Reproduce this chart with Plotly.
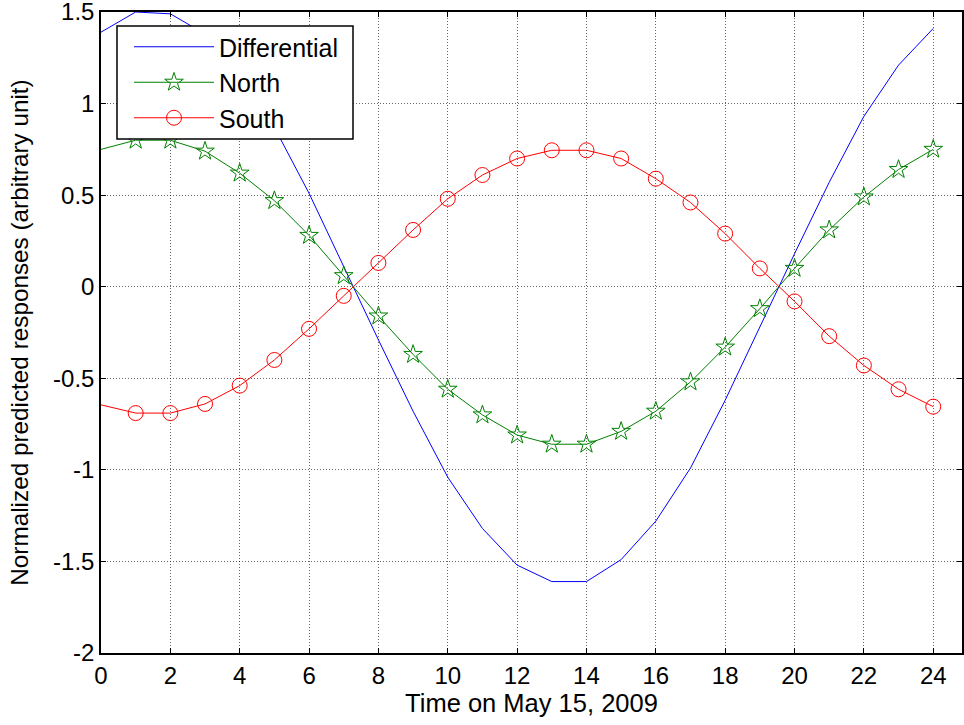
import plotly.graph_objects as go

hours = list(range(0, 25))
differential = [1.39, 1.50, 1.49, 1.38, 1.16, 0.87, 0.51, 0.11, -0.29, -0.68, -1.04, -1.32, -1.52,
                -1.61, -1.61, -1.49, -1.28, -0.99, -0.62, -0.22, 0.18, 0.57, 0.93, 1.21, 1.41]
north = [0.75, 0.80, 0.80, 0.74, 0.62, 0.47, 0.28, 0.06, -0.16, -0.37, -0.56, -0.70, -0.81,
         -0.86, -0.86, -0.79, -0.68, -0.52, -0.33, -0.12, 0.10, 0.31, 0.49, 0.64, 0.75]
south = [-0.645, -0.69, -0.69, -0.64, -0.54, -0.40, -0.23, -0.05, 0.13, 0.31, 0.48, 0.61, 0.70,
         0.745, 0.745, 0.70, 0.59, 0.46, 0.29, 0.10, -0.08, -0.27, -0.43, -0.56, -0.655]

x_ticks = list(range(0, 25, 2))
y_ticks = [-2, -1.5, -1, -0.5, 0, 0.5, 1, 1.5]
y_tick_labels = ["-2", "-1.5", "-1", "-0.5", "0", "0.5", "1", "1.5"]

BLUE = "rgb(0,0,255)"
GREEN = "rgb(0,128,0)"
RED = "rgb(255,0,0)"
FONT = "Liberation Sans, Arial, sans-serif"

fig = go.Figure()
fig.add_trace(go.Scatter(x=hours, y=differential, mode="lines", name="Differential",
                         line=dict(color=BLUE, width=1), legendgroup="a"))
# line from the first hour, markers from hour 1
fig.add_trace(go.Scatter(x=hours[:2], y=north[:2], mode="lines", showlegend=False,
                         line=dict(color=GREEN, width=1)))
fig.add_trace(go.Scatter(x=hours[1:], y=north[1:], mode="lines+markers", name="North",
                         line=dict(color=GREEN, width=1), legendgroup="b",
                         marker=dict(symbol="star-open", size=14, color=GREEN, line=dict(width=1, color=GREEN))))
fig.add_trace(go.Scatter(x=hours[:2], y=south[:2], mode="lines", showlegend=False,
                         line=dict(color=RED, width=1)))
fig.add_trace(go.Scatter(x=hours[1:], y=south[1:], mode="lines+markers", name="South",
                         line=dict(color=RED, width=1), legendgroup="c",
                         marker=dict(symbol="circle-open", size=15, color=RED, line=dict(width=1, color=RED))))

axis_common = dict(showline=True, linecolor="black", linewidth=1.5, mirror="ticks",
                   ticks="inside", ticklen=5, tickcolor="black",
                   showgrid=True, gridcolor="rgba(0,0,0,0.6)", griddash="1px,2px", gridwidth=1,
                   zeroline=False, ticklabeloverflow="allow", automargin=False,
                   tickfont=dict(family=FONT, size=24, color="black"))

fig.update_xaxes(range=[0, 24.83], tickvals=x_ticks, ticktext=[str(v) for v in x_ticks],
                 title=dict(text="Time on May 15, 2009", font=dict(family=FONT, size=25.5, color="black"), standoff=5),
                 **axis_common)
fig.update_yaxes(range=[-2, 1.5], tickvals=y_ticks, ticktext=y_tick_labels,
                 title=dict(text="Normalized predicted responses (arbitrary unit)", font=dict(family=FONT, size=24.3, color="black"), standoff=18),
                 **axis_common)

# legend frame (white box with black border) drawn over the curves
fig.add_shape(type="rect", xref="paper", yref="paper",
              x0=(117 - 101) / 861, x1=(353 - 101) / 861,
              y0=(653 - 139) / 641, y1=(653 - 26) / 641,
              line=dict(color="black", width=1.5), fillcolor="white", layer="above")

fig.update_layout(
    width=964, height=725,
    margin=dict(l=101, r=2, t=12, b=72),
    paper_bgcolor="white", plot_bgcolor="white",
    font=dict(family=FONT, size=24, color="black"),
    legend=dict(x=(129 - 101) / 861, y=(653 - 24) / 641, xanchor="left", yanchor="top",
                bgcolor="rgba(0,0,0,0)", borderwidth=0,
                font=dict(family=FONT, size=25, color="black"),
                itemwidth=80, tracegroupgap=5, traceorder="normal"),
)

fig.write_html("out.html")
